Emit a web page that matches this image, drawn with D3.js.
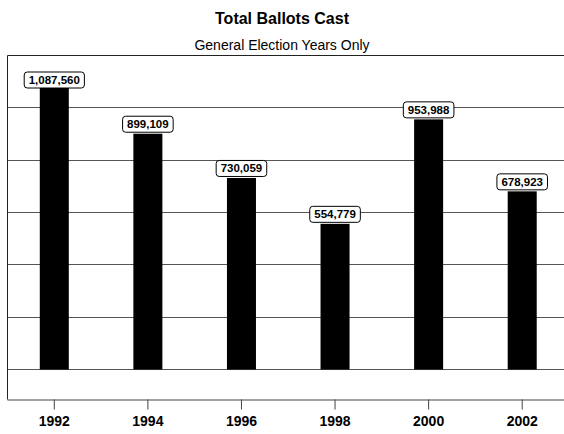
<!DOCTYPE html>
<html><head><meta charset="utf-8">
<script src="https://cdn.jsdelivr.net/npm/d3@7"></script>
<style>
html,body{margin:0;padding:0;background:#fff;}
svg{display:block;font-family:Arial,"Liberation Sans",sans-serif;}
</style></head>
<body>
<svg id="c" width="564" height="434"></svg>
<script>
const years = ["1992","1994","1996","1998","2000","2002"];
const ballots = [1087560, 899109, 730059, 554779, 953988, 678923];
const gridValues = [0, 200000, 400000, 600000, 800000, 1000000];
const titleText = "Total Ballots Cast";
const subtitleText = "General Election Years Only";

const svg = d3.select("#c");
const plotLeft = 7.5, plotRight = 569, plotTop = 55, zeroY = 369, axisY = 399.5;

const x = d3.scaleBand().domain(years).range([plotLeft, plotRight]).paddingInner(0.69).paddingOuter(0.345);
const y = d3.scaleLinear().domain([0, 1200000]).range([zeroY, plotTop]);

// title
svg.append("text").attr("x", 282).attr("y", 24).attr("text-anchor", "middle")
  .attr("font-size", 16).attr("font-weight", "bold").text(titleText);
svg.append("text").attr("x", 282).attr("y", 50).attr("text-anchor", "middle")
  .attr("font-size", 14).text(subtitleText);

// gridlines
svg.append("g").selectAll("line").data(gridValues).join("line")
  .attr("x1", plotLeft).attr("x2", 564)
  .attr("y1", d => Math.round(y(d)) + 0.5).attr("y2", d => Math.round(y(d)) + 0.5)
  .attr("stroke", "#555").attr("stroke-width", 1);

// frame top + left
svg.append("path")
  .attr("d", `M${plotLeft},${axisY} V${Math.round(y(1200000))+0.5} H564`)
  .attr("fill", "none").attr("stroke", "#222").attr("stroke-width", 1);

// bars
svg.append("g").selectAll("rect").data(years).join("rect")
  .attr("x", d => x(d)).attr("width", x.bandwidth())
  .attr("y", (d, i) => y(ballots[i]))
  .attr("height", (d, i) => y(0) - y(ballots[i]) + 0.5)
  .attr("fill", "#000");

// x axis
const xAxis = d3.axisBottom(x).tickSize(10).tickPadding(7).tickSizeOuter(0);
const gx = svg.append("g").attr("transform", `translate(0,${axisY})`).call(xAxis);
gx.select(".domain").attr("d", `M${plotLeft},0.5H564`).attr("stroke", "#444");
gx.selectAll(".tick line").attr("stroke", "#444");
gx.selectAll(".tick text").attr("font-size", 14).attr("font-weight", "bold")
  .attr("font-family", "Arial,'Liberation Sans',sans-serif").attr("fill", "#000");

// value labels
const fmt = d3.format(",");
const labels = svg.append("g").selectAll("g").data(years).join("g");
labels.each(function(d, i) {
  const g = d3.select(this);
  const cx = x(d) + x.bandwidth() / 2;
  const t = g.append("text").attr("x", cx).attr("text-anchor", "middle")
    .attr("font-size", 11.5).attr("font-weight", "bold").text(fmt(ballots[i]));
  const w = t.node().getComputedTextLength() + 9;
  const h = 16;
  let boxTop = y(ballots[i]) - 1.5 - h;
  boxTop = Math.max(boxTop, y(1200000) + 17);
  g.insert("rect", "text").attr("x", cx - w / 2).attr("y", boxTop).attr("width", w).attr("height", h)
    .attr("rx", 3).attr("fill", "#fff").attr("stroke", "#000").attr("stroke-width", 1);
  t.attr("y", boxTop + 12);
});
</script>
</body></html>
